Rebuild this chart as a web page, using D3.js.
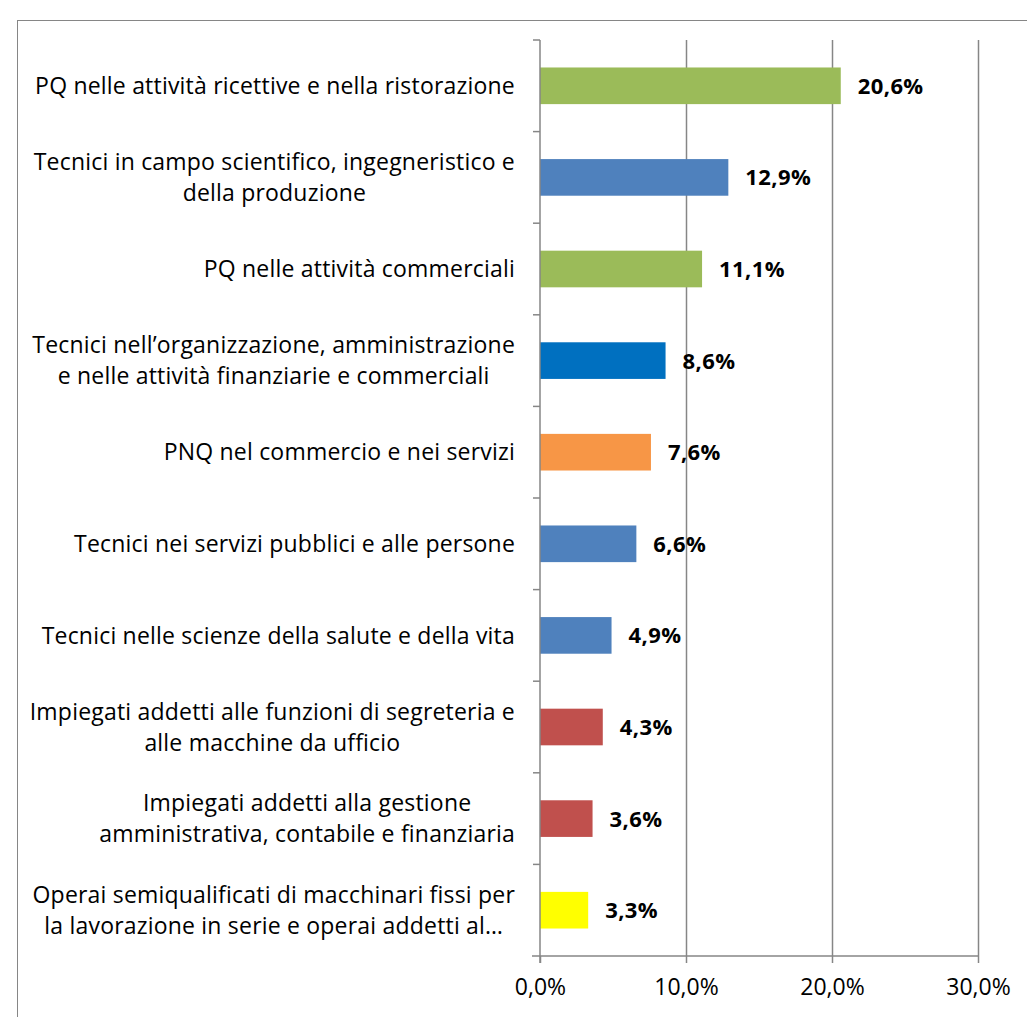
<!DOCTYPE html>
<html>
<head>
<meta charset="utf-8">
<script src="https://cdn.jsdelivr.net/npm/d3@7"></script>
<style>
  body { margin: 0; background: #fff; }
  svg { display: block; }
  text { font-variant-ligatures: none; }
  .axis path, .axis line { stroke: #868686; }
  .grid line { stroke: #868686; }
</style>
</head>
<body>
<svg id="chart" width="1027" height="1017"></svg>
<script>
// categories, top to bottom ("\n" = wrap point as in the original)
var categories = [
  "PQ nelle attività ricettive e nella ristorazione",
  "Tecnici in campo scientifico, ingegneristico e\ndella produzione",
  "PQ nelle attività commerciali",
  "Tecnici nell\u2019organizzazione, amministrazione\ne nelle attività finanziarie e commerciali",
  "PNQ nel commercio e nei servizi",
  "Tecnici nei servizi pubblici e alle persone",
  "Tecnici nelle scienze della salute e della vita",
  "Impiegati addetti alle funzioni di segreteria e\nalle macchine da ufficio",
  "Impiegati addetti alla gestione\namministrativa, contabile e finanziaria",
  "Operai semiqualificati di macchinari fissi per\nla lavorazione in serie e operai addetti al\u2026"
];
var values = [20.6, 12.9, 11.1, 8.6, 7.6, 6.6, 4.9, 4.3, 3.6, 3.3];
var barColors = ["#9BBB59", "#4F81BD", "#9BBB59", "#0070C0", "#F79646",
                 "#4F81BD", "#4F81BD", "#C0504D", "#C0504D", "#FFFF00"];
var xTicks = [0, 10, 20, 30];

var svg = d3.select("#chart");
var font = "'Open Sans', Lato, sans-serif";

// chart border
svg.append("rect")
  .attr("x", 17.5).attr("y", 20.5)
  .attr("width", 1040).attr("height", 1040)
  .attr("fill", "none")
  .attr("stroke", "#868686")
  .attr("stroke-width", 1);

var plotLeft = 540, plotRight = 978, plotTop = 40, plotBottom = 956;

var x = d3.scaleLinear()
  .domain([0, 30])
  .range([plotLeft, plotRight]);

var y = d3.scaleBand()
  .domain(categories)
  .range([plotTop, plotBottom])
  .paddingInner(0.6)
  .paddingOuter(0.3);

var yTicks = d3.scaleBand().domain(categories).range([plotTop, plotBottom]);

// vertical gridlines
svg.append("g")
  .attr("class", "grid")
  .selectAll("line")
  .data(xTicks.slice(1))
  .enter()
  .append("line")
  .attr("x1", function(d) { return x(d) + 0.5; })
  .attr("x2", function(d) { return x(d) + 0.5; })
  .attr("y1", plotTop)
  .attr("y2", plotBottom)
  .attr("stroke-width", 1.5);

// bars
svg.selectAll(".bar")
  .data(values)
  .enter()
  .append("rect")
  .attr("class", "bar")
  .attr("x", x(0))
  .attr("y", function(d, i) { return y(categories[i]); })
  .attr("width", function(d) { return x(d) - x(0); })
  .attr("height", y.bandwidth())
  .attr("fill", function(d, i) { return barColors[i]; });

// value labels
svg.selectAll(".val")
  .data(values)
  .enter()
  .append("text")
  .attr("class", "val")
  .attr("x", function(d) { return x(d) + 17; })
  .attr("y", function(d, i) { return y(categories[i]) + y.bandwidth() / 2; })
  .attr("dy", "0.36em")
  .attr("font-family", font)
  .attr("font-weight", "bold")
  .attr("font-size", 22)
  .attr("letter-spacing", 0.4)
  .attr("fill", "#000")
  .text(function(d) { return d.toFixed(1).replace(".", ",") + "%"; });

// x axis
var xAxis = d3.axisBottom(x)
  .tickValues(xTicks)
  .tickSize(7)
  .tickFormat(function(d) { return d.toFixed(1).replace(".", ",") + "%"; });

var gx = svg.append("g")
  .attr("class", "axis")
  .attr("transform", "translate(0," + plotBottom + ")")
  .call(xAxis);
gx.select(".domain").remove();
gx.append("line")
  .attr("x1", plotLeft - 8).attr("x2", plotRight + 1)
  .attr("y1", 0).attr("y2", 0)
  .attr("stroke", "#868686").attr("stroke-width", 1.5);
gx.selectAll(".tick line").attr("stroke-width", 1.5);
gx.selectAll(".tick text")
  .attr("y", 23)
  .attr("font-family", font)
  .attr("font-size", 23)
  .attr("fill", "#000");

// y axis line and ticks between categories
var gy = svg.append("g").attr("class", "axis");
gy.append("line")
  .attr("x1", plotLeft).attr("x2", plotLeft)
  .attr("y1", plotTop).attr("y2", plotBottom + 7)
  .attr("stroke-width", 1.5);
gy.selectAll(".ytick")
  .data(categories)
  .enter()
  .append("line")
  .attr("x1", plotLeft - 7).attr("x2", plotLeft)
  .attr("y1", function(d) { return yTicks(d); })
  .attr("y2", function(d) { return yTicks(d); })
  .attr("stroke-width", 1.5);

// category labels: block right-aligned, lines centered within block
var labelRight = 515, lineH = 31;
var labels = svg.selectAll(".cat")
  .data(categories)
  .enter()
  .append("text")
  .attr("class", "cat")
  .attr("font-family", font)
  .attr("font-size", 23)
  .attr("letter-spacing", 0.2)
  .attr("fill", "#000")
  .attr("text-anchor", "middle");

labels.each(function(d) {
  var t = d3.select(this);
  var lines = d.split("\n");
  var cy = yTicks(d) + yTicks.bandwidth() / 2;
  lines.forEach(function(line, k) {
    t.append("tspan")
      .attr("y", cy + (k - (lines.length - 1) / 2) * lineH)
      .attr("dy", "0.36em")
      .text(line);
  });
  var w = d3.max(t.selectAll("tspan").nodes(), function(n) { return n.getComputedTextLength(); });
  t.selectAll("tspan").attr("x", labelRight - w / 2);
});
</script>
</body>
</html>
